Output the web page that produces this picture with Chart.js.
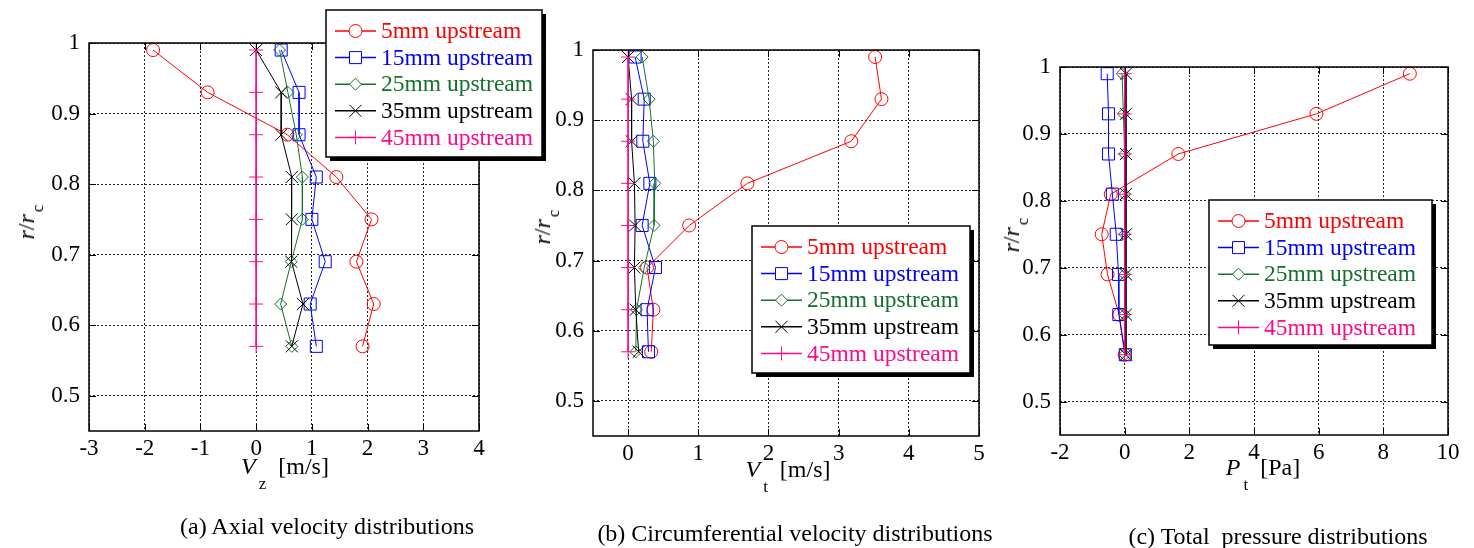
<!DOCTYPE html>
<html>
<head>
<meta charset="utf-8">
<script src="https://cdn.jsdelivr.net/npm/chart.js@4.4.0/dist/chart.umd.min.js"></script>
<style>
  body { margin: 0; background: #fff; }
  #fig { position: relative; width: 1474px; height: 548px; overflow: hidden;
         font-family: "Liberation Serif", "Times New Roman", serif; color: #000; }
  #fig canvas { position: absolute; top: 0; }
  .lbl { position: absolute; white-space: nowrap; font-size: 24px; line-height: 1;
         transform: translate(-50%, -50%); }
  .ylbl { transform: translate(-50%, -50%) rotate(-90deg); }
  .sub { font-size: 17px; position: relative; top: 15px; margin-left: 3px; }
  .ylbl .sub { top: 9px; margin-left: 2px; }
</style>
</head>
<body>
<div id="fig">
  <canvas id="chartA" width="560" height="548" style="left:0px"></canvas>
  <canvas id="chartB" width="450" height="548" style="left:545px"></canvas>
  <canvas id="chartC" width="464" height="548" style="left:1010px"></canvas>

  <div class="lbl ylbl" style="left:26px;top:222px"><i>r</i>/<i>r</i><span class="sub">c</span></div>
  <div class="lbl ylbl" style="left:542px;top:227px"><i>r</i>/<i>r</i><span class="sub">c</span></div>
  <div class="lbl ylbl" style="left:1011px;top:235px"><i>r</i>/<i>r</i><span class="sub">c</span></div>

  <div class="lbl" style="left:285px;top:466px"><i>V</i><span class="sub">z</span>&nbsp;&nbsp;[m/s]</div>
  <div class="lbl" style="left:788px;top:469px"><i>V</i><span class="sub">t</span>&nbsp;&nbsp;[m/s]</div>
  <div class="lbl" style="left:1263px;top:467px"><i>P</i><span class="sub">t</span>&nbsp;&nbsp;[Pa]</div>

  <div class="lbl" style="left:327px;top:526px">(a) Axial velocity distributions</div>
  <div class="lbl" style="left:795px;top:533px">(b) Circumferential velocity distributions</div>
  <div class="lbl" style="left:1278px;top:536px">(c) Total&nbsp; pressure distributions</div>
</div>

<script>
// radial measuring positions
const rPos = [0.99, 0.93, 0.87, 0.81, 0.75, 0.69, 0.63, 0.57];
const rTicks = [0.5, 0.6, 0.7, 0.8, 0.9, 1];
const seriesNames = ["5mm upstream", "15mm upstream", "25mm upstream", "35mm upstream", "45mm upstream"];

// (a) axial velocity Vz [m/s]
const vz5 = [-1.85, -0.87, 0.56, 1.44, 2.07, 1.80, 2.11, 1.91];
const vz15 = [0.45, 0.77, 0.77, 1.08, 1.00, 1.24, 0.97, 1.08];
const vz25 = [0.42, 0.57, 0.72, 0.83, 0.83, 0.63, 0.44, 0.64];
const vz35 = [0.00, 0.45, 0.45, 0.64, 0.64, 0.63, 0.84, 0.64];
const vz45 = [0, 0, 0, 0, 0, 0, 0, 0];
const vzTicks = [-3, -2, -1, 0, 1, 2, 3, 4];

// (b) circumferential velocity Vt [m/s]
const vt5 = [3.52, 3.61, 3.18, 1.70, 0.87, 0.27, 0.36, 0.33];
const vt15 = [0.10, 0.23, 0.21, 0.31, 0.20, 0.39, 0.27, 0.29];
const vt25 = [0.20, 0.30, 0.36, 0.38, 0.37, 0.23, 0.12, 0.11];
const vt35 = [0.00, 0.05, 0.05, 0.09, 0.10, 0.09, 0.11, 0.15];
const vt45 = [0, 0, 0, 0, 0, 0, 0, 0];
const vtTicks = [0, 1, 2, 3, 4, 5];

// (c) total pressure Pt [Pa]
const pt5 = [8.82, 5.93, 1.66, -0.43, -0.71, -0.53, -0.17, 0.00];
const pt15 = [-0.54, -0.50, -0.50, -0.38, -0.26, -0.19, -0.18, 0.02];
const pt25 = [-0.08, -0.04, 0, 0, 0, 0, 0, 0];
const pt35 = [0.04, 0.04, 0.04, 0.04, 0.04, 0.04, 0.04, 0.04];
const pt45 = [0, 0, 0, 0, 0, 0, 0, 0];
const ptTicks = [-2, 0, 2, 4, 6, 8, 10];

const colors = ["#ff0000", "#0000ff", "#16702e", "#000000", "#ff0a8c"];
const markers = ["circle", "rect", "rectRot", "crossRot", "cross"];
const markerSize = [6.5, 8.5, 6, 8.5, 7];

const serif = "'Liberation Serif', 'Times New Roman', serif";

// box frame, inner tick marks and the boxed legend with drop shadow
const frameLegend = {
  id: "frameLegend",
  afterDraw(chart, args, opts) {
    const { ctx, chartArea: a, scales } = chart;
    ctx.save();
    ctx.strokeStyle = "#000";
    ctx.lineWidth = 1;
    ctx.beginPath();
    scales.x.ticks.forEach((t) => {
      const px = Math.round(scales.x.getPixelForValue(t.value)) + 0.5;
      ctx.moveTo(px, a.bottom); ctx.lineTo(px, a.bottom - 7);
      ctx.moveTo(px, a.top); ctx.lineTo(px, a.top + 7);
    });
    scales.y.ticks.forEach((t) => {
      const py = Math.round(scales.y.getPixelForValue(t.value)) + 0.5;
      ctx.moveTo(a.left, py); ctx.lineTo(a.left + 7, py);
      ctx.moveTo(a.right, py); ctx.lineTo(a.right - 7, py);
    });
    ctx.stroke();
    ctx.lineWidth = 1.5;
    ctx.strokeRect(a.left, a.top, a.right - a.left, a.bottom - a.top);

    const b = opts.box;
    ctx.fillStyle = "#000";
    ctx.fillRect(b.x + 4, b.y + 4, b.w, b.h);
    ctx.fillStyle = "#fff";
    ctx.fillRect(b.x, b.y, b.w, b.h);
    ctx.strokeRect(b.x, b.y, b.w, b.h);

    ctx.font = "23.5px " + serif;
    ctx.textBaseline = "middle";
    chart.data.datasets.forEach((ds, i) => {
      const y = b.y + 21 + i * 26.6;
      ctx.strokeStyle = ds.borderColor;
      ctx.lineWidth = 1.5;
      ctx.beginPath();
      ctx.moveTo(b.x + 9, y); ctx.lineTo(b.x + 50, y);
      ctx.stroke();
      ctx.lineWidth = 1;
      ctx.fillStyle = "#fff";
      Chart.helpers.drawPoint(ctx, {
        pointStyle: ds.pointStyle, radius: ds.pointRadius, rotation: 0, borderWidth: 1
      }, b.x + 29.5, y);
      ctx.fillStyle = ds.borderColor;
      ctx.fillText(ds.label, b.x + 55, y + 1);
    });
    ctx.restore();
  }
};

function makePanel(canvasId, series, xMin, xMax, xTicks, pad, box) {
  const datasets = series.map((vals, i) => ({
    label: seriesNames[i],
    data: vals.map((v, k) => ({ x: v, y: rPos[k] })),
    borderColor: colors[i],
    backgroundColor: "rgba(0,0,0,0)",
    borderWidth: 1,
    pointStyle: markers[i],
    pointRadius: markerSize[i],
    pointBorderWidth: 1,
    pointBorderColor: colors[i],
    pointBackgroundColor: "rgba(0,0,0,0)",
    tension: 0,
    clip: false,
    order: series.length - i   // later series on top
  }));

  const gridOpts = { color: "rgba(0,0,0,0.85)", lineWidth: 1, drawTicks: false, borderDash: [2, 2] };
  const tickFont = { family: serif, size: 23 };
  const fmt = (v) => String(Number(v.toFixed(2)));

  return new Chart(document.getElementById(canvasId), {
    type: "line",
    data: { datasets: datasets },
    options: {
      responsive: false,
      animation: false,
      events: [],
      layout: { padding: pad },
      plugins: {
        legend: { display: false },
        tooltip: { enabled: false },
        frameLegend: { box: box }
      },
      scales: {
        x: {
          type: "linear",
          min: xMin,
          max: xMax,
          grid: gridOpts,
          border: { display: false, dash: [2, 2] },
          ticks: { color: "#000", font: tickFont, padding: 4, maxRotation: 0, callback: fmt },
          afterBuildTicks: (s) => { s.ticks = xTicks.map((v) => ({ value: v })); },
          afterFit: (s) => { s.height = 40; }
        },
        y: {
          type: "linear",
          min: 0.45,
          max: 1,
          grid: gridOpts,
          border: { display: false, dash: [2, 2] },
          ticks: { color: "#000", font: tickFont, padding: 9, callback: fmt },
          afterBuildTicks: (s) => { s.ticks = rTicks.map((v) => ({ value: v })); },
          afterFit: (s) => { s.width = 45; }
        }
      }
    },
    plugins: [frameLegend]
  });
}

makePanel("chartA", [vz5, vz15, vz25, vz35, vz45], -3, 4, vzTicks,
  { left: 44, right: 81, top: 43, bottom: 77 },
  { x: 326, y: 10, w: 216, h: 147 });

makePanel("chartB", [vt5, vt15, vt25, vt35, vt45], -0.5, 5, vtTicks,
  { left: 3, right: 16, top: 50, bottom: 72 },
  { x: 207, y: 226, w: 218, h: 147 });

makePanel("chartC", [pt5, pt15, pt25, pt35, pt45], -2, 10, ptTicks,
  { left: 5, right: 26, top: 67, bottom: 73 },
  { x: 199, y: 200, w: 223, h: 145 });
</script>
</body>
</html>
